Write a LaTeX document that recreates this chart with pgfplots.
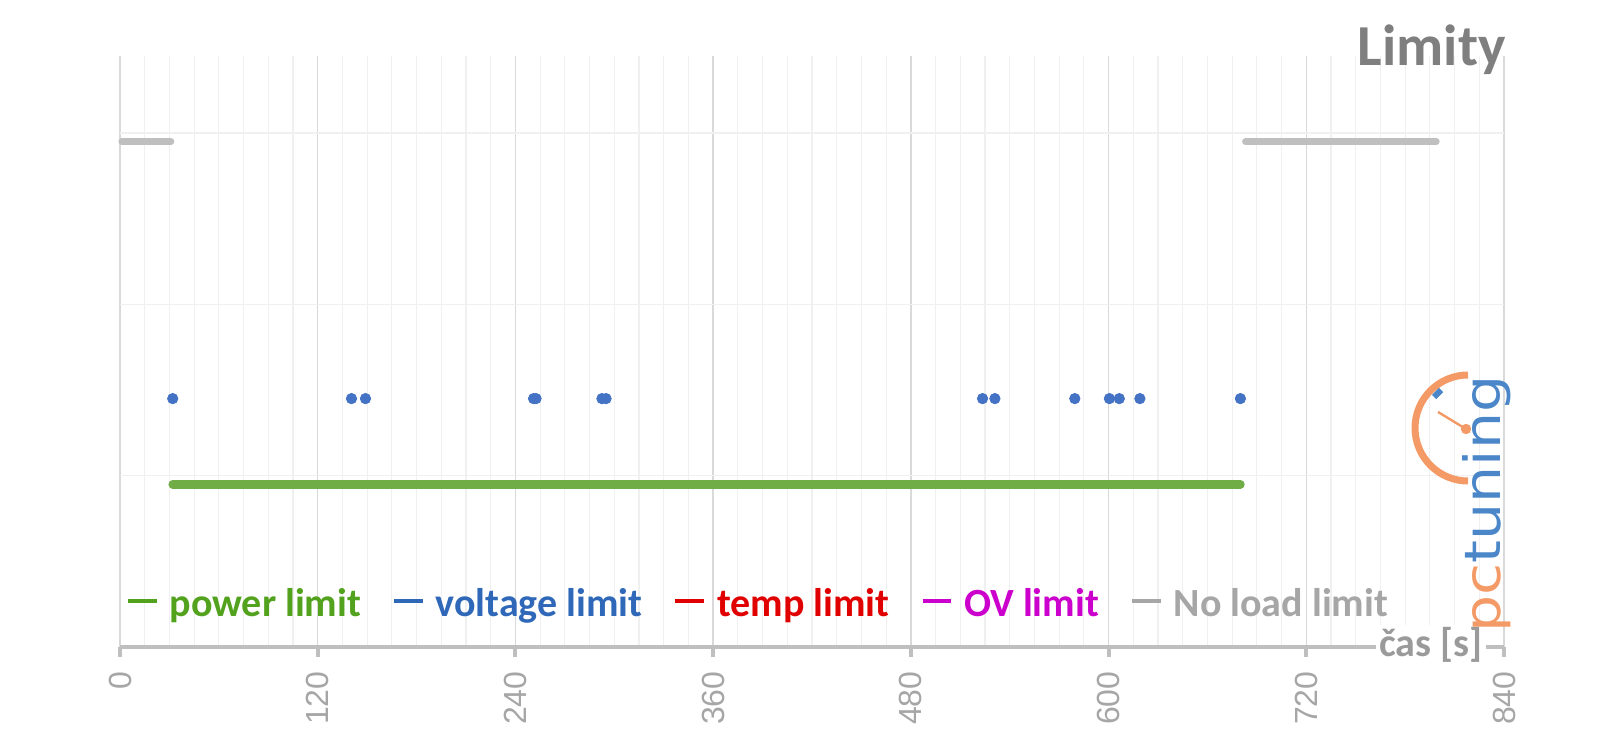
\documentclass[border=0pt]{standalone}
\usepackage{pgfplots}
\pgfplotsset{compat=1.18}
\usepackage{fontspec}
\setmainfont{Carlito}
\newfontfamily\arialf{Liberation Sans}
\newfontfamily\logof{DejaVu Sans}
\definecolor{cgreen}{HTML}{70AD47}
\definecolor{cblue}{HTML}{4472C4}
\definecolor{cgray}{HTML}{BFBFBF}
\definecolor{cmaj}{HTML}{D9D9D9}
\definecolor{cmin}{HTML}{F0F0F0}
\definecolor{caxis}{HTML}{BFBFBF}
\definecolor{ctick}{HTML}{A6A6A6}
\definecolor{tgreen}{HTML}{52A21E}
\definecolor{tblue}{HTML}{2F68B8}
\definecolor{tred}{HTML}{E00000}
\definecolor{tmag}{HTML}{CC00CC}
\definecolor{tgray}{HTML}{A6A6A6}
\definecolor{ctitle}{HTML}{7F7F7F}
\definecolor{clab}{HTML}{9A9A9A}
\definecolor{corange}{HTML}{F39A66}
\definecolor{clogob}{HTML}{4A86C8}
\begin{document}
\begin{tikzpicture}
\useasboundingbox (-60pt,-49pt) rectangle (740pt,323.5pt);
\begin{axis}[
  at={(0pt,0pt)}, anchor=south west,
  scale only axis, width=692pt, height=295.5pt,
  xmin=0, xmax=840, ymin=0, ymax=3.45,
  xtick={0,120,...,840},
  minor x tick num=7,
  ytick={1,2,3}, yticklabels={},
  xmajorgrids, xminorgrids, ymajorgrids,
  major x grid style={draw=cmaj, line width=0.75pt},
  minor x grid style={draw=cmin, line width=0.6pt},
  major y grid style={draw=cmin, line width=0.75pt},
  axis x line*=bottom, axis y line*=left,
  y axis line style={draw=none},
  x axis line style={draw=caxis, line width=2.4pt},
  tick align=outside,
  major tick length=5pt,
  minor tick length=0pt,
  xtick style={draw=caxis, line width=2pt},
  ytick style={draw=none},
  xticklabel style={rotate=90, anchor=east, font=\arialf\fontsize{16}{16}\selectfont, text=ctick, inner sep=0pt},
  /pgf/number format/assume math mode=true,
  xticklabel shift=7pt,
  clip=false,
  legend style={at={(0.004,0.073)}, anchor=west, draw=none, fill=none,
    font=\bfseries\fontsize{20}{20}\selectfont, inner sep=0pt,
    nodes={inner sep=0pt},
    /tikz/every even column/.append style={column sep=15.5pt},
    /tikz/every odd column/.append style={column sep=5.5pt}},
  legend columns=5,
  legend image code/.code={\draw[#1] (0pt,0.12em) -- (14.3pt,0.12em);},
]
\addplot[forget plot, cgray, line width=3.2pt, line cap=round] coordinates {(1,2.95) (31,2.95)};
\addplot[forget plot, cgray, line width=3.2pt, line cap=round] coordinates {(683,2.95) (799,2.95)};
\addplot[forget plot, cgreen, line width=4.3pt, line cap=round] coordinates {(32,0.95) (680,0.95)};
\addplot[forget plot, only marks, mark=*, mark size=2.6pt, mark options={draw=cblue, fill=cblue}] coordinates {
(32,1.45) (140.5,1.45) (149,1.45) (251,1.45) (252.5,1.45) (292.5,1.45) (295,1.45)
(523.5,1.45) (531,1.45) (579.5,1.45) (600.5,1.45) (606.5,1.45) (619,1.45) (680,1.45)};
\addlegendimage{tgreen, line width=2pt}
\addlegendentry{\textcolor{tgreen}{power limit}}
\addlegendimage{tblue, line width=2pt}
\addlegendentry{\textcolor{tblue}{voltage limit}}
\addlegendimage{tred, line width=2pt}
\addlegendentry{\textcolor{tred}{temp limit}}
\addlegendimage{tmag, line width=2pt}
\addlegendentry{\textcolor{tmag}{OV limit}}
\addlegendimage{tgray, line width=2pt}
\addlegendentry{\textcolor{tgray}{No load limit}}
\end{axis}
\node[anchor=base east, inner sep=0pt, font=\bfseries\fontsize{29}{29}\selectfont, text=ctitle] at (693pt,290.5pt) {Limity};
\node[anchor=base east, fill=white, inner xsep=1.5pt, inner ysep=1pt, font=\bfseries\fontsize{20}{20}\selectfont, text=clab] at (683pt,-4.7pt) {čas [s]};
% logo watermark
\draw[corange, line width=3.5pt] (674pt,136pt) arc[start angle=90, end angle=270, radius=26.5pt];
\draw[corange, line width=1.2pt] (673pt,109pt) -- (659pt,117.5pt);
\fill[corange] (673pt,109pt) circle (2.6pt);
\draw[clogob, line width=3pt] (657pt,125pt) -- (660.5pt,128.5pt);
\node[rotate=90, xscale=1.17, anchor=base west, inner sep=0pt, font=\logof\fontsize{25}{25}\selectfont] at (690pt,7pt) {\textcolor{corange}{pc}\textcolor{clogob}{tuning}};
\end{tikzpicture}
\end{document}
